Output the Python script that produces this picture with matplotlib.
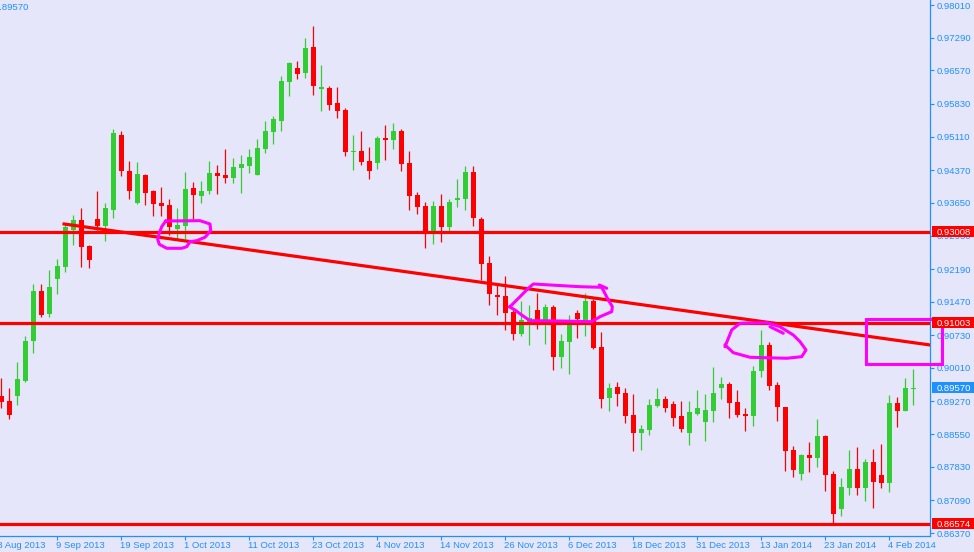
import numpy as np
import matplotlib
matplotlib.use("Agg")
import matplotlib.pyplot as plt
import matplotlib.transforms as mtransforms
from matplotlib.patches import Rectangle

# daily candles, 29 Aug 2013 .. 7 Feb 2014
opens = [
    0.89391, 0.89281, 0.89391, 0.89722, 0.90604, 0.91706, 0.91199, 0.91971, 0.92236, 0.93052,
    0.93272, 0.92699, 0.93294, 0.93140, 0.93493, 0.95146, 0.94352, 0.93647, 0.94264, 0.93911,
    0.93647, 0.93603, 0.93074, 0.93140, 0.93978, 0.93801, 0.93911, 0.94308, 0.94264, 0.94198,
    0.94419, 0.94463, 0.94264, 0.94838, 0.95212, 0.95455, 0.96315, 0.96624, 0.96513, 0.97087,
    0.96161, 0.96183, 0.95852, 0.95698, 0.94771, 0.94793, 0.94573, 0.94529, 0.95080, 0.95036,
    0.95234, 0.94529, 0.93823, 0.93581, 0.93030, 0.93581, 0.93118, 0.93713, 0.93735, 0.94330,
    0.93294, 0.92324, 0.91618, 0.91596, 0.91243, 0.90758, 0.91023, 0.91287, 0.91067, 0.91354,
    0.90251, 0.90582, 0.91221, 0.91067, 0.91486, 0.90472, 0.89347, 0.89590, 0.89457, 0.88972,
    0.88575, 0.88642, 0.89171, 0.89325, 0.89215, 0.88950, 0.88575, 0.88994, 0.88818, 0.89060,
    0.89568, 0.89656, 0.89259, 0.88994, 0.88950, 0.89942, 0.90516, 0.89634, 0.89149, 0.88200,
    0.87671, 0.88090, 0.88024, 0.88509, 0.87671, 0.86900, 0.87363, 0.87782, 0.87363, 0.87936,
    0.87649, 0.87473, 0.89237, 0.89060, 0.89546]
highs = [
    0.89788, 0.89568, 0.90141, 0.90714, 0.91861, 0.91861, 0.92170, 0.92412, 0.93162, 0.93382,
    0.93537, 0.92721, 0.93911, 0.93647, 0.95279, 0.95234, 0.94573, 0.94551, 0.94286, 0.93934,
    0.94000, 0.93735, 0.93537, 0.94330, 0.94110, 0.94132, 0.94573, 0.94485, 0.94838, 0.94639,
    0.94705, 0.94838, 0.95058, 0.95455, 0.95565, 0.96447, 0.96756, 0.96778, 0.97285, 0.97550,
    0.96690, 0.96227, 0.96205, 0.95742, 0.95146, 0.95234, 0.94882, 0.95124, 0.95367, 0.95411,
    0.95279, 0.94793, 0.93889, 0.93669, 0.93691, 0.93845, 0.93735, 0.94176, 0.94463, 0.94463,
    0.93338, 0.92478, 0.91839, 0.92037, 0.91287, 0.91486, 0.91398, 0.91662, 0.91420, 0.91398,
    0.90758, 0.91177, 0.91287, 0.91662, 0.91530, 0.90802, 0.89678, 0.89700, 0.89568, 0.89435,
    0.88752, 0.89325, 0.89568, 0.89391, 0.89281, 0.89281, 0.89281, 0.89524, 0.89435, 0.90031,
    0.89810, 0.89700, 0.89524, 0.89127, 0.90053, 0.90847, 0.90582, 0.89700, 0.89149, 0.88289,
    0.88112, 0.88377, 0.88884, 0.88531, 0.87737, 0.87583, 0.88200, 0.88267, 0.88002, 0.88223,
    0.88333, 0.89413, 0.89369, 0.89788, 0.89987]
lows = [
    0.89127, 0.88884, 0.89193, 0.89700, 0.90339, 0.91133, 0.91133, 0.91640, 0.92125, 0.92721,
    0.92236, 0.92214, 0.93052, 0.92809, 0.93316, 0.94242, 0.93735, 0.93625, 0.93603, 0.93360,
    0.93360, 0.92941, 0.92853, 0.92853, 0.93294, 0.93647, 0.93845, 0.93845, 0.94088, 0.94088,
    0.93867, 0.94308, 0.94264, 0.94749, 0.94948, 0.95234, 0.96006, 0.96381, 0.96403, 0.96028,
    0.95675, 0.95698, 0.95521, 0.94683, 0.94375, 0.94485, 0.94176, 0.94397, 0.94595, 0.94838,
    0.94352, 0.93493, 0.93404, 0.92655, 0.92743, 0.92787, 0.93030, 0.93559, 0.93493, 0.93140,
    0.91949, 0.91398, 0.91177, 0.90847, 0.90626, 0.90714, 0.90516, 0.90869, 0.90538, 0.89965,
    0.90009, 0.89876, 0.90670, 0.90714, 0.90428, 0.89127, 0.89060, 0.89171, 0.88796, 0.88178,
    0.88200, 0.88531, 0.89149, 0.89038, 0.88730, 0.88597, 0.88311, 0.88972, 0.88399, 0.88818,
    0.89325, 0.88906, 0.88928, 0.88619, 0.88730, 0.89810, 0.89524, 0.88840, 0.87737, 0.87605,
    0.87539, 0.87715, 0.87826, 0.87296, 0.86569, 0.86745, 0.87208, 0.87208, 0.87076, 0.86922,
    0.87363, 0.87274, 0.88708, 0.89060, 0.89193]
closes = [
    0.89259, 0.88972, 0.89766, 0.90604, 0.91706, 0.91177, 0.91795, 0.92258, 0.93118, 0.93272,
    0.92677, 0.92390, 0.93140, 0.93537, 0.95190, 0.94352, 0.93911, 0.94286, 0.93867, 0.93625,
    0.93581, 0.93118, 0.93162, 0.93956, 0.93823, 0.93911, 0.94308, 0.94242, 0.94198, 0.94441,
    0.94507, 0.94661, 0.94860, 0.95234, 0.95499, 0.96337, 0.96734, 0.96491, 0.97065, 0.96227,
    0.96205, 0.95808, 0.95675, 0.94771, 0.94793, 0.94551, 0.94352, 0.95080, 0.95036, 0.95234,
    0.94507, 0.93801, 0.93559, 0.93030, 0.93581, 0.93118, 0.93669, 0.93757, 0.94330, 0.93316,
    0.92302, 0.91640, 0.91574, 0.91221, 0.90758, 0.91067, 0.91111, 0.91067, 0.91354, 0.90251,
    0.90604, 0.90957, 0.91089, 0.91486, 0.90450, 0.89325, 0.89568, 0.89435, 0.88950, 0.88575,
    0.88664, 0.89193, 0.89325, 0.89127, 0.88906, 0.88664, 0.89038, 0.89127, 0.89083, 0.89457,
    0.89656, 0.89237, 0.88972, 0.88950, 0.89942, 0.90516, 0.89612, 0.89149, 0.88178, 0.87760,
    0.88090, 0.88024, 0.88509, 0.87649, 0.86789, 0.87385, 0.87782, 0.87363, 0.87936, 0.87495,
    0.87473, 0.89237, 0.89060, 0.89568, 0.89570]

date_labels = ["28 Aug 2013", "9 Sep 2013", "19 Sep 2013", "1 Oct 2013", "11 Oct 2013",
               "23 Oct 2013", "4 Nov 2013", "14 Nov 2013", "26 Nov 2013", "6 Dec 2013",
               "18 Dec 2013", "31 Dec 2013", "13 Jan 2014", "23 Jan 2014", "4 Feb 2014"]
price_ticks = [0.98010, 0.97290, 0.96570, 0.95830, 0.95110, 0.94370, 0.93650, 0.92930,
               0.92190, 0.91470, 0.90730, 0.90010, 0.89270, 0.88550, 0.87830, 0.87090, 0.86370]

levels = [0.93008, 0.91003, 0.86574]
trend_x = [7.85, 116.1]
trend_y = [0.93184, 0.90516]
last_price = 0.89570

# hand drawn marks (bar index, price)
mark1_x = [20.55, 24.84, 26.09, 26.18, 25.46, 24.43, 23.59, 23.18, 22.55, 20.68, 19.75, 19.55, 19.75, 20.05, 20.55]
mark1_y = [0.93250, 0.93257, 0.93184, 0.93036, 0.92891, 0.92816, 0.92794, 0.92683, 0.92648, 0.92648,
           0.92736, 0.92846, 0.92979, 0.93124, 0.93250]
mark2_x = [63.59, 64.84, 65.88, 66.50, 68.59, 72.34, 75.05, 75.34, 75.88, 76.38, 76.30, 74.84, 73.80,
           69.84, 66.09, 65.05, 64.21, 63.50]
mark2_y = [0.91360, 0.91581, 0.91766, 0.91861, 0.91839, 0.91801, 0.91788, 0.91691, 0.91508, 0.91360,
           0.91250, 0.91140, 0.91030, 0.91045, 0.91052, 0.91177, 0.91287, 0.91360]
mark2_hook_x = [74.75, 75.68]
mark2_hook_y = [0.91839, 0.91766]
mark3_x = [90.46, 91.30, 92.34, 95.68, 97.34, 99.00, 99.84, 100.59, 100.05, 98.18, 93.59, 91.50, 90.46]
mark3_y = [0.90478, 0.90847, 0.90994, 0.91008, 0.90919, 0.90736, 0.90589, 0.90406, 0.90258, 0.90223,
           0.90245, 0.90346, 0.90516]
mark3_hook_x = [96.09, 97.75]
mark3_hook_y = [0.90919, 0.90774]
box_x = [108.09, 117.59]
box_y = [0.90097, 0.91089]

bg = "#E6E6FA"
blue = "#1E90FF"
green = "#32CD32"
red = "#FF0000"
magenta = "#FF00FF"
font = "Liberation Sans"
fs = 6.8

fig = plt.figure(figsize=(9.74, 5.52), dpi=100, facecolor=bg)
ax = fig.add_axes([0, 16 / 552, 930 / 974, 536 / 552], facecolor=bg)

x = np.arange(len(opens))
o = np.array(opens)
c = np.array(closes)
up = c >= o
cols = np.where(up, green, red)

ax.vlines(x, lows, highs, colors=cols, lw=0.9, zorder=2)
ax.bar(x, np.maximum(np.abs(c - o), 0.0002), bottom=np.minimum(o, c), width=0.62,
       color=cols, linewidth=0, zorder=3)

for lv in levels:
    ax.axhline(lv, color=red, lw=2.3, zorder=4)
ax.plot(trend_x, trend_y, color=red, lw=2.3, zorder=4)

mk = dict(color=magenta, lw=2.2, zorder=6, clip_on=False, solid_joinstyle="round", solid_capstyle="round")
ax.plot(mark1_x, mark1_y, **mk)
ax.plot(mark2_x, mark2_y, **mk)
ax.plot(mark2_hook_x, mark2_hook_y, **mk)
ax.plot(mark3_x, mark3_y, **mk)
ax.plot(mark3_hook_x, mark3_hook_y, **mk)
ax.add_patch(Rectangle((box_x[0], box_y[0]), box_x[1] - box_x[0], box_y[1] - box_y[0],
                       fill=False, ec=magenta, lw=2.2, zorder=7, clip_on=False))

ax.set_xlim(-1.3 / 8, (930 - 1.3) / 8)
ax.set_ylim(0.86304, 0.98123)

for s in ["top", "left"]:
    ax.spines[s].set_visible(False)
for s in ["right", "bottom"]:
    ax.spines[s].set_color(blue)
    ax.spines[s].set_linewidth(0.9)

ax.yaxis.tick_right()
ax.set_yticks(price_ticks)
ax.set_yticklabels(["%.5f" % v for v in price_ticks], fontsize=fs, family=font, color=blue)
ax.tick_params(axis="y", colors=blue, length=3, width=0.8, pad=2)

tick_pos = [-1 + 8 * k for k in range(len(date_labels))]
ax.set_xticks(tick_pos[1:])
ax.set_xticklabels([])
ax.tick_params(axis="x", colors=blue, length=3, width=0.8, direction="out")
lab_tr = mtransforms.blended_transform_factory(ax.transData, ax.transAxes) + \
    mtransforms.ScaledTranslation(-1 / 100, -4.5 / 100, fig.dpi_scale_trans)
for p, lab in zip(tick_pos, date_labels):
    ax.text(p, 0, lab, transform=lab_tr, ha="left", va="top", fontsize=fs, family=font, color=blue)

# price labels on the right scale
box_tr = mtransforms.blended_transform_factory(fig.transFigure, ax.transData)
half = 5.5 * (0.98123 - 0.86304) / 536
for v, fc in [(levels[0], red), (levels[1], red), (levels[2], red), (last_price, blue)]:
    ax.add_patch(Rectangle((932 / 974, v - half), 42 / 974, 2 * half, transform=box_tr,
                           fc=fc, ec="none", zorder=8, clip_on=False))
    ax.text(936.5 / 974, v, "%.5f" % v, transform=box_tr, ha="left", va="center_baseline",
            fontsize=fs, family=font, color="white", zorder=9, clip_on=False)

fig.text(29 / 974, 1 - 7 / 552, "%.5f" % last_price, ha="right", va="center",
         fontsize=fs, family=font, color=blue)

fig.savefig("out.png", dpi=100, facecolor=bg)
